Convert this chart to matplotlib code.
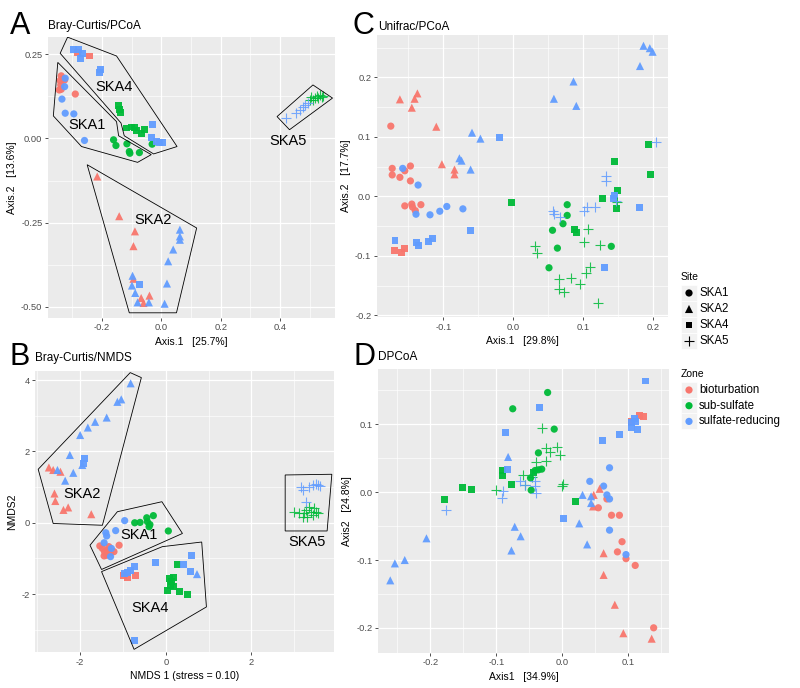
import matplotlib

matplotlib.use("Agg")

import matplotlib.pyplot as plt
import numpy as np
from matplotlib.patches import Polygon, Rectangle

plt.rcParams["font.family"] = ["Liberation Sans", "DejaVu Sans"]

SITES = ["SKA1", "SKA2", "SKA4", "SKA5"]
ZONES = ["bioturbation", "sub-sulfate", "sulfate-reducing"]
ZONE_CODE = {"b": "bioturbation", "g": "sub-sulfate", "s": "sulfate-reducing"}
ZONE_COLOR = {"bioturbation": "#F8766D", "sub-sulfate": "#00BA38", "sulfate-reducing": "#619CFF"}
SITE_MARKER = {"SKA1": "o", "SKA2": "^", "SKA4": "s", "SKA5": "+"}
SITE_SIZE = {"SKA1": 27, "SKA2": 34, "SKA4": 25, "SKA5": 52}

# ---- A: Bray-Curtis / PCoA ----
A_X = [
    -0.295, -0.278, -0.273, -0.267, -0.210, -0.205, -0.031, -0.034, -0.017, -0.006, 0.003, -0.074,
    -0.242, -0.284,
    -0.145, -0.142, -0.139, -0.116, -0.102, -0.091, -0.083, -0.068, -0.057,
    -0.3375, -0.332, -0.341, -0.326, -0.339, -0.344, -0.3375, -0.290,
    -0.324, -0.326, -0.335, -0.324, -0.295, -0.259,
    -0.161, -0.153, -0.116, -0.108, -0.106, -0.074, -0.031,
    -0.216, -0.142, -0.089, -0.094, -0.094, -0.068, -0.060, -0.040,
    0.0625, 0.0625, 0.0625, 0.040, 0.023, 0.019, 0.011, -0.042, -0.080, -0.088, -0.099, -0.097,
    0.420, 0.455, 0.469, 0.477, 0.485, 0.494,
    0.500, 0.506, 0.517, 0.523, 0.534, 0.528, 0.540, 0.511, 0.545,
]
A_Y = [
    0.265, 0.263, 0.238, 0.253, 0.197, 0.206, 0.041, 0.004, -0.009, -0.012, -0.012, -0.434,
    0.245, 0.255,
    0.097, 0.085, 0.077, 0.031, 0.034, 0.033, 0.024, 0.014, 0.026,
    0.186, 0.178, 0.172, 0.174, 0.159, 0.144, 0.146, 0.132,
    0.179, 0.154, 0.117, 0.075, 0.073, -0.006,
    -0.004, -0.021, -0.016, -0.039, -0.044, -0.042, -0.017,
    -0.113, -0.231, -0.276, -0.320, -0.417, -0.474, -0.489, -0.467,
    -0.271, -0.291, -0.301, -0.330, -0.365, -0.431, -0.491, -0.487, -0.487, -0.459, -0.437, -0.408,
    0.060, 0.075, 0.085, 0.093, 0.100, 0.105,
    0.115, 0.123, 0.120, 0.125, 0.130, 0.120, 0.123, 0.113, 0.125,
]
A_CODE = (
    "4s 4s 4s 4s 4s 4s 4s 4s 4s 4s 4s 4s "
    "4b 4b "
    "4g 4g 4g 4g 4g 4g 4g 4g 4g "
    "1b 1b 1b 1b 1b 1b 1b 1b "
    "1s 1s 1s 1s 1s 1s "
    "1g 1g 1g 1g 1g 1g 1g "
    "2b 2b 2b 2b 2b 2b 2b 2b "
    "2s 2s 2s 2s 2s 2s 2s 2s 2s 2s 2s 2s "
    "5s 5s 5s 5s 5s 5s "
    "5g 5g 5g 5g 5g 5g 5g 5g 5g"
).split()
A_HULLS = {
    "SKA4": [(-0.316, 0.301), (-0.151, 0.245), (0.053, -0.024), (-0.026, -0.046), (-0.125, 0.008), (-0.136, 0.046), (-0.341, 0.253)],
    "SKA1": [(-0.349, 0.226), (-0.151, 0.050), (-0.144, 0.008), (-0.034, -0.048), (-0.080, -0.071), (-0.269, -0.024), (-0.364, 0.067)],
    "SKA2": [(-0.250, -0.078), (0.119, -0.266), (0.051, -0.518), (-0.108, -0.518)],
    "SKA5": [(0.390, 0.065), (0.511, 0.159), (0.577, 0.120), (0.432, 0.026)],
}
A_LABELS = {"SKA4": (-0.159, 0.152), "SKA1": (-0.250, 0.039), "SKA2": (-0.028, -0.243), "SKA5": (0.428, -0.009)}

# ---- B: Bray-Curtis / NMDS ----
B_X = [
    -0.82, -1.13, -1.04, -1.38, -1.65, -1.82, -2.00, -2.24, -1.95, -2.16, -2.35, -2.53, 0.73,
    -1.89, -1.93, -0.97, -0.90, -0.82, -0.72, -0.23, 0.41, 0.60, 0.57, -0.74,
    -2.73, -2.63, -2.46, -2.60, -2.58, -2.39, -2.28, -1.74,
    -0.725, -0.60, -0.444, -0.429, -0.39, -0.29, -0.37, 0.06,
    -0.96, -1.17, -1.40, -1.38, -1.44, -1.27, -1.29,
    -1.54, -1.48, -1.43, -1.36, -1.38, -1.29, -1.21, -1.09, -1.44, -1.33,
    -0.99, -0.90, -0.70,
    0.08, 0.19, 0.13, 0.10, 0.04, 0.18, 0.33, 0.51, 0.27,
    3.16, 3.20, 3.43, 3.51, 3.61, 3.27, 3.35, 3.55,
    3.00, 3.12, 3.24, 3.27, 3.35, 3.39, 3.43, 3.51, 3.31, 3.20, 3.47, 3.55,
]
B_Y = [
    3.91, 3.39, 3.46, 2.95, 2.83, 2.67, 2.46, 1.90, 1.62, 1.40, 1.18, 1.48, -1.44,
    1.80, 1.66, -1.42, -1.40, -1.35, -1.23, -1.11, -1.16, -0.93, -1.37, -3.29,
    1.55, 1.48, 1.43, 0.82, 0.61, 0.36, 0.43, 0.24,
    0.00, 0.01, 0.14, 0.03, -0.11, 0.20, -0.05, -0.23,
    0.06, -0.22, -0.28, -0.37, -0.56, -0.72, -0.95,
    -0.65, -0.72, -0.81, -0.77, -0.91, -0.84, -0.81, -0.63, -0.93, -0.67,
    -1.49, -1.53, -1.49,
    -1.56, -1.53, -1.65, -1.75, -1.91, -1.79, -1.92, -2.00, -1.16,
    1.01, 0.93, 1.06, 1.08, 1.03, 0.59, 1.01, 1.06,
    0.31, 0.28, 0.26, 0.36, 0.45, 0.31, 0.21, 0.31, 0.17, 0.17, 0.40, 0.26,
]
B_CODE = (
    "2s 2s 2s 2s 2s 2s 2s 2s 2s 2s 2s 2s 2s "
    "4s 4s 4s 4s 4s 4s 4s 4s 4s 4s 4s "
    "2b 2b 2b 2b 2b 2b 2b 2b "
    "1g 1g 1g 1g 1g 1g 1g 1g "
    "1s 1s 1s 1s 1s 1s 1s "
    "1b 1b 1b 1b 1b 1b 1b 1b 1b 1b "
    "4b 4b 4b "
    "4g 4g 4g 4g 4g 4g 4g 4g 4g "
    "5s 5s 5s 5s 5s 5s 5s 5s "
    "5g 5g 5g 5g 5g 5g 5g 5g 5g 5g 5g 5g"
).split()
B_HULLS = {
    "SKA2": [(-2.98, 1.50), (-0.83, 4.21), (-0.57, 4.07), (-1.48, -0.07), (-2.63, -0.02)],
    "SKA1": [(-1.77, -0.63), (-1.13, 0.31), (-0.09, 0.59), (0.39, -0.30), (-1.50, -1.31)],
    "SKA4": [(-1.50, -1.37), (-0.08, -0.67), (0.84, -0.54), (0.95, -2.36), (-0.74, -3.55)],
    "SKA5": [(2.79, 1.34), (3.88, 1.36), (3.77, -0.23), (2.79, -0.23)],
}
B_LABELS = {"SKA2": (-1.96, 0.82), "SKA1": (-0.62, -0.35), "SKA4": (-0.37, -2.40), "SKA5": (3.30, -0.53)}

# ---- C: Unifrac / PCoA ----
C_X = [
    -0.162, -0.141, -0.137, -0.145, -0.110, -0.102, -0.084, -0.084,
    -0.175, -0.173, -0.173, -0.162, -0.155, -0.147, -0.147, -0.155, -0.145, -0.144, -0.140, -0.132,
    -0.158, -0.136, -0.139, -0.119, -0.105, -0.095, -0.072,
    -0.059, -0.047, -0.077, -0.074, -0.061, 0.058, 0.086, 0.090, 0.181, 0.186, 0.195, 0.199,
    -0.020, -0.061, -0.169, -0.138, -0.135, -0.121, -0.115, 0.144, 0.143, 0.180, 0.130,
    -0.170, -0.160, -0.156,
    -0.002, 0.144, 0.149, 0.148, 0.127, 0.087, 0.090, 0.193, 0.196,
    0.077, 0.077, 0.071, 0.056, 0.063, 0.140, 0.051,
    0.204, 0.132, 0.132, 0.057, 0.058, 0.067, 0.101, 0.105, 0.117, 0.146,
    0.031, 0.034, 0.107, 0.101, 0.124, 0.110, 0.104, 0.065, 0.082, 0.095, 0.065, 0.073, 0.121, 0.148,
]
C_Y = [
    0.163, 0.164, 0.173, 0.149, 0.117, 0.054, 0.045, 0.037,
    0.118, 0.047, 0.036, 0.032, 0.043, 0.051, 0.026, -0.016, -0.013, -0.018, -0.024, -0.014,
    0.047, 0.019, -0.030, -0.031, -0.025, -0.017, -0.021,
    0.107, 0.097, 0.064, 0.060, 0.045, 0.164, 0.193, 0.152, 0.219, 0.253, 0.249, 0.243,
    0.099, -0.057, -0.074, -0.078, -0.082, -0.076, -0.071, 0.002, -0.004, -0.019, -0.120,
    -0.091, -0.095, -0.087,
    -0.010, 0.058, 0.010, -0.021, -0.004, -0.056, -0.060, 0.087, 0.036,
    -0.014, -0.032, -0.046, -0.057, -0.087, -0.084, -0.120,
    0.091, 0.035, 0.025, -0.024, -0.030, -0.035, -0.024, -0.018, -0.018, -0.007,
    -0.084, -0.096, -0.055, -0.077, -0.082, -0.119, -0.128, -0.139, -0.137, -0.148, -0.155, -0.160, -0.180, -0.010,
]
C_CODE = (
    "2b 2b 2b 2b 2b 2b 2b 2b "
    "1b 1b 1b 1b 1b 1b 1b 1b 1b 1b 1b 1b "
    "1s 1s 1s 1s 1s 1s 1s "
    "2s 2s 2s 2s 2s 2s 2s 2s 2s 2s 2s 2s "
    "4s 4s 4s 4s 4s 4s 4s 4s 4s 4s 4s "
    "4b 4b 4b "
    "4g 4g 4g 4g 4g 4g 4g 4g 4g "
    "1g 1g 1g 1g 1g 1g 1g "
    "5s 5s 5s 5s 5s 5s 5s 5s 5s 5s "
    "5g 5g 5g 5g 5g 5g 5g 5g 5g 5g 5g 5g 5g 5g"
).split()

# ---- D: DPCoA ----
D_X = [
    0.127, -0.034, -0.086, -0.083, 0.062, 0.087, 0.105, 0.110, 0.111, 0.105, 0.114, 0.002,
    0.105, 0.118, 0.124,
    -0.022, -0.075, -0.012, -0.036, -0.041, -0.036, -0.031, -0.048, -0.047,
    -0.178, -0.151, -0.138, -0.091, -0.090, -0.077, 0.020, -0.043,
    0.042, 0.063, 0.072, 0.068, 0.072, 0.072, 0.097,
    0.068, 0.055, 0.075, 0.087, 0.091, 0.084, 0.097, 0.111, 0.139,
    0.048, 0.057, 0.047, 0.063, 0.063, 0.080, 0.093, 0.136,
    -0.082, 0.031, 0.044, 0.044, 0.026, -0.072, -0.063, -0.077, 0.038, -0.206, -0.254, -0.239, -0.261,
    -0.176, -0.090, -0.091, -0.064, -0.057, -0.041, -0.040, -0.041,
    -0.101, -0.031, -0.024, -0.018, -0.008, -0.003, -0.039, -0.025, -0.060, -0.056, 0.000, 0.001, -0.046,
]
D_Y = [
    0.164, 0.125, 0.088, 0.033, 0.076, 0.085, 0.103, 0.109, 0.104, 0.096, 0.092, -0.039,
    0.104, 0.113, 0.112,
    0.147, 0.123, 0.093, 0.058, 0.032, 0.033, 0.034, 0.021, 0.003,
    -0.011, 0.007, 0.004, 0.032, 0.024, 0.012, -0.014, 0.029,
    0.016, 0.009, 0.036, -0.004, -0.010, -0.056, -0.092,
    -0.010, -0.023, -0.034, -0.034, -0.073, -0.088, -0.098, -0.108, -0.200,
    -0.004, 0.005, -0.021, -0.090, -0.122, -0.166, -0.208, -0.216,
    0.052, -0.004, -0.006, -0.016, -0.046, -0.051, -0.065, -0.086, -0.077, -0.068, -0.105, -0.100, -0.130,
    -0.026, 0.002, -0.009, 0.017, 0.010, 0.009, -0.001, 0.016,
    0.003, 0.094, 0.065, 0.059, 0.067, 0.055, 0.044, 0.046, 0.026, 0.011, 0.009, 0.012, 0.023,
]
D_CODE = (
    "4s 4s 4s 4s 4s 4s 4s 4s 4s 4s 4s 4s "
    "4b 4b 4b "
    "1g 1g 1g 1g 1g 1g 1g 1g 1g "
    "4g 4g 4g 4g 4g 4g 4g 4g "
    "1s 1s 1s 1s 1s 1s 1s "
    "1b 1b 1b 1b 1b 1b 1b 1b 1b "
    "2b 2b 2b 2b 2b 2b 2b 2b "
    "2s 2s 2s 2s 2s 2s 2s 2s 2s 2s 2s 2s 2s "
    "5s 5s 5s 5s 5s 5s 5s 5s "
    "5g 5g 5g 5g 5g 5g 5g 5g 5g 5g 5g 5g 5g"
).split()


def minor_ticks(major, lo, hi):
    step = major[1] - major[0]
    cand = np.arange(major[0] - step * 3, major[-1] + step * 3, step) + step / 2
    return [v for v in cand if lo <= v <= hi]


def style(ax, xlim, ylim, xticks, xlabels, yticks, ylabels):
    ax.set_facecolor("#EBEBEB")
    ax.set_xlim(*xlim)
    ax.set_ylim(*ylim)
    ax.set_xticks(xticks)
    ax.set_xticklabels(xlabels)
    ax.set_yticks(yticks)
    ax.set_yticklabels(ylabels)
    ax.set_xticks(minor_ticks(xticks, *xlim), minor=True)
    ax.set_yticks(minor_ticks(yticks, *ylim), minor=True)
    ax.grid(which="major", color="white", linewidth=0.9)
    ax.grid(which="minor", color="white", linewidth=0.45)
    ax.set_axisbelow(True)
    for sp in ax.spines.values():
        sp.set_visible(False)
    ax.tick_params(which="major", length=2.5, width=0.6, color="#333333", labelsize=6.7,
                   labelcolor="#4D4D4D", pad=1.5)
    ax.tick_params(which="minor", length=0)


def draw_points(ax, xs, ys, codes):
    xs = np.asarray(xs)
    ys = np.asarray(ys)
    sites = np.asarray(["SKA" + c[0] for c in codes])
    zones = np.asarray([ZONE_CODE[c[1]] for c in codes])
    for site in SITES:
        for zone in ZONES:
            m = (sites == site) & (zones == zone)
            if not m.any():
                continue
            if site == "SKA5":
                ax.scatter(xs[m], ys[m], s=SITE_SIZE[site], marker="+", color=ZONE_COLOR[zone],
                           linewidths=0.8, alpha=0.85, zorder=3)
            else:
                ax.scatter(xs[m], ys[m], s=SITE_SIZE[site], marker=SITE_MARKER[site],
                           color=ZONE_COLOR[zone], edgecolors="none", alpha=0.95, zorder=3)


def draw_hulls(ax, hulls, labels):
    for name, verts in hulls.items():
        ax.add_patch(Polygon(verts, closed=True, fill=False, edgecolor="black", linewidth=0.6, zorder=4))
    for name, (x, y) in labels.items():
        ax.text(x, y, name, fontsize=10.5, ha="center", va="center", zorder=5)


fig = plt.figure(figsize=(8, 6.88), dpi=100)
fig.patch.set_facecolor("white")

axA = fig.add_axes([0.060, 0.538, 0.359, 0.408])
axC = fig.add_axes([0.471, 0.539, 0.364, 0.410])
axB = fig.add_axes([0.044, 0.052, 0.374, 0.409])
axD = fig.add_axes([0.473, 0.051, 0.363, 0.413])

style(axA, (-0.382, 0.586), (-0.533, 0.301), [-0.2, 0.0, 0.2, 0.4], ["-0.2", "0.0", "0.2", "0.4"],
      [-0.5, -0.25, 0.0, 0.25], ["-0.50", "-0.25", "0.00", "0.25"])
draw_points(axA, A_X, A_Y, A_CODE)
draw_hulls(axA, A_HULLS, A_LABELS)
axA.set_xlabel("Axis.1   [25.7%]", fontsize=7.5, labelpad=3)
axA.set_ylabel("Axis.2   [13.6%]", fontsize=7.5, labelpad=3)

style(axC, (-0.195, 0.221), (-0.203, 0.271), [-0.1, 0.0, 0.1, 0.2], ["-0.1", "0.0", "0.1", "0.2"],
      [-0.2, -0.1, 0.0, 0.1, 0.2], ["-0.2", "-0.1", "0.0", "0.1", "0.2"])
draw_points(axC, C_X, C_Y, C_CODE)
axC.set_xlabel("Axis.1   [29.8%]", fontsize=7.5, labelpad=3)
axC.set_ylabel("Axis.2   [17.7%]", fontsize=7.5, labelpad=3)

style(axB, (-3.05, 3.94), (-3.63, 4.26), [-2, 0, 2], ["-2", "0", "2"],
      [-2, 0, 2, 4], ["-2", "0", "2", "4"])
draw_points(axB, B_X, B_Y, B_CODE)
draw_hulls(axB, B_HULLS, B_LABELS)
axB.set_xlabel("NMDS 1 (stress = 0.10)", fontsize=7.5, labelpad=3)
axB.set_ylabel("NMDS2", fontsize=7.5, labelpad=3)

style(axD, (-0.279, 0.162), (-0.237, 0.182), [-0.2, -0.1, 0.0, 0.1], ["-0.2", "-0.1", "0.0", "0.1"],
      [-0.2, -0.1, 0.0, 0.1], ["-0.2", "-0.1", "0.0", "0.1"])
draw_points(axD, D_X, D_Y, D_CODE)
axD.set_xlabel("Axis1   [34.9%]", fontsize=7.5, labelpad=3)
axD.set_ylabel("Axis2   [24.8%]", fontsize=7.5, labelpad=3)

# overlay in pixel coordinates for panel letters, titles and legends
ov = fig.add_axes([0, 0, 1, 1])
ov.set_xlim(0, 800)
ov.set_ylim(688, 0)
ov.axis("off")
ov.patch.set_alpha(0)

for letter, lx, ly, title, tx in [("A", 10, 26, "Bray-Curtis/PCoA", 48), ("C", 353, 26, "Unifrac/PCoA", 378),
                                  ("B", 9, 357, "Bray-Curtis/NMDS", 35), ("D", 353, 357, "DPCoA", 378)]:
    ov.text(lx, ly, letter, fontsize=22, ha="left", va="center")
    ov.text(tx, ly + 0.5, title, fontsize=8.5, ha="left", va="center")

key_x, key_w = 681, 16
ov.text(681, 277, "Site", fontsize=7.5, ha="left", va="center")
for i, site in enumerate(SITES):
    cy = 293 + i * 16
    ov.add_patch(Rectangle((key_x, cy - 8), key_w, 16, facecolor="#F2F2F2", edgecolor="white", linewidth=0.5))
    if site == "SKA5":
        ov.scatter([key_x + key_w / 2], [cy], s=SITE_SIZE[site], marker="+", color="black", linewidths=0.8)
    else:
        ov.scatter([key_x + key_w / 2], [cy], s=SITE_SIZE[site], marker=SITE_MARKER[site], color="black",
                   edgecolors="none")
    ov.text(699, cy, site, fontsize=8.3, ha="left", va="center")

ov.text(681, 374, "Zone", fontsize=7.5, ha="left", va="center")
for i, zone in enumerate(ZONES):
    cy = 390 + i * 15.7
    ov.add_patch(Rectangle((key_x, cy - 8), key_w, 16, facecolor="#F2F2F2", edgecolor="white", linewidth=0.5))
    ov.scatter([key_x + key_w / 2], [cy], s=SITE_SIZE["SKA1"], marker="o", color=ZONE_COLOR[zone], edgecolors="none")
    ov.text(699, cy, zone, fontsize=8.3, ha="left", va="center")

fig.savefig("out.png", dpi=100, facecolor="white")
